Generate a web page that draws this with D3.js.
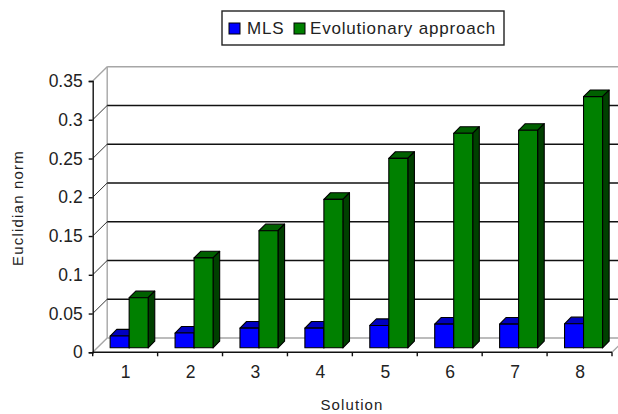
<!DOCTYPE html>
<html><head><meta charset="utf-8">
<script src="https://cdn.jsdelivr.net/npm/d3@7/dist/d3.min.js"></script>
<style>html,body{margin:0;background:#fff}svg{display:block}text{font-family:"Liberation Sans",Arial,sans-serif;fill:#222}</style>
</head><body><svg id="c" width="618" height="414"></svg>
<script>
const categories=["1","2","3","4","5","6","7","8"];
const seriesNames=["MLS","Evolutionary approach"];
const mls=[0.0152,0.019,0.0254,0.0254,0.0288,0.0306,0.0306,0.031];
const evo=[0.0646,0.116,0.151,0.1915,0.2444,0.2767,0.2806,0.324];
const yTicks=[0,0.05,0.1,0.15,0.2,0.25,0.3,0.35];
const tickLabels=["0","0.05","0.1","0.15","0.2","0.25","0.3","0.35"];
const frontColors=["#0000ff","#008000"],topColors=["#0000c0","#006000"],sideColors=["#000080","#004000"];

const svg=d3.select("#c");
const y=d3.scaleLinear().domain([0,0.35]).range([352.3,81]);
const x=d3.scaleBand().domain(categories).range([92.7,612]);
const depth={x:14.5,y:14.3};
const right=618;
const ln=(a,b,c,d,s,w=1.4)=>svg.append("line").attr("x1",a).attr("y1",b).attr("x2",c).attr("y2",d).attr("stroke",s).attr("stroke-width",w);

const bx=x.range()[0]+depth.x;
ln(bx,y(0.35)-depth.y,bx,y(0)-depth.y,"#a6a6a6");
ln(bx,y(0.35)-depth.y,right,y(0.35)-depth.y,"#a6a6a6");
ln(bx,y(0)-depth.y,right,y(0)-depth.y,"#a6a6a6");
ln(x.range()[0],y(0),bx,y(0)-depth.y,"#a6a6a6");
ln(x.range()[0],y(0.35),bx,y(0.35)-depth.y,"#a6a6a6");
ln(x.range()[1],y(0),x.range()[1]+depth.x*0.45,y(0)-depth.y*0.45,"#a6a6a6");
yTicks.slice(1,-1).forEach(t=>{
  ln(bx,y(t)-depth.y,right,y(t)-depth.y,"#111");
  ln(x.range()[0],y(t),bx,y(t)-depth.y,"#333",1);
});

const yAxis=d3.axisLeft(y).tickValues(yTicks).tickFormat((d,i)=>tickLabels[i]).tickSize(4).tickPadding(6);
const ya=svg.append("g").attr("transform",`translate(${x.range()[0]},0)`).call(yAxis);
const xs=d3.scalePoint().domain(categories).range([x(categories[0])+x.bandwidth()/2,x(categories[7])+x.bandwidth()/2]);
const xa=svg.append("g").attr("transform",`translate(0,${y(0)})`).call(d3.axisBottom(xs).tickSize(0).tickPadding(13));
[ya,xa].forEach(g=>{g.selectAll("path").attr("stroke","#111").attr("stroke-width",1.4);g.selectAll("line").attr("stroke","#111").attr("stroke-width",1.4);g.selectAll("text").attr("font-size",17.5).attr("font-family",'"Liberation Sans"').attr("fill","#444");});
xa.select("path").attr("d",`M${x.range()[0]},0H${x.range()[1]}`);
svg.append("g").selectAll("line").data(d3.range(9)).join("line")
  .attr("x1",i=>x.range()[0]+i*x.step()).attr("x2",i=>x.range()[0]+i*x.step())
  .attr("y1",y(0)).attr("y2",y(0)+4).attr("stroke","#111").attr("stroke-width",1.4);

const barW=19, off=4, bd=6.6;
const base=y(0)-4.5;
const h=v=>y(0)-y(v);
function bar(cat,s,v){
  const x0=x(cat)+x.bandwidth()/2-barW+off+s*barW, top=base-h(v);
  const g=svg.append("g").attr("stroke","#000").attr("stroke-width",1.1).attr("stroke-linejoin","round");
  g.append("path").attr("fill",topColors[s]).attr("d",d3.line()([[x0,top],[x0+bd,top-bd],[x0+barW+bd,top-bd],[x0+barW,top]])+"Z");
  g.append("path").attr("fill",sideColors[s]).attr("d",d3.line()([[x0+barW,top],[x0+barW+bd,top-bd],[x0+barW+bd,base-bd],[x0+barW,base]])+"Z");
  g.append("rect").attr("x",x0).attr("y",top).attr("width",barW).attr("height",base-top).attr("fill",frontColors[s]);
}
categories.forEach((c,i)=>{bar(c,0,mls[i]);bar(c,1,evo[i]);});

svg.append("text").attr("x",352).attr("y",410).attr("text-anchor","middle").attr("font-size",15).attr("letter-spacing",1.1).text("Solution");
svg.append("text").attr("transform","translate(23,208) rotate(-90)").attr("text-anchor","middle").attr("font-size",15).attr("letter-spacing",1.2).text("Euclidian norm");

const lg=svg.append("g");
lg.append("rect").attr("x",222).attr("y",11).attr("width",282).attr("height",34).attr("fill","#fff").attr("stroke","#222").attr("stroke-width",1.4);
const lx=[229,294], tx=[247,310];
seriesNames.forEach((n,i)=>{
  lg.append("rect").attr("x",lx[i]).attr("y",23).attr("width",11).attr("height",11).attr("fill",frontColors[i]).attr("stroke","#000");
  lg.append("text").attr("x",tx[i]).attr("y",34).attr("font-size",17).attr("letter-spacing",0.8).attr("fill",i?"#111":"#223").text(n);
});
</script></body></html>
